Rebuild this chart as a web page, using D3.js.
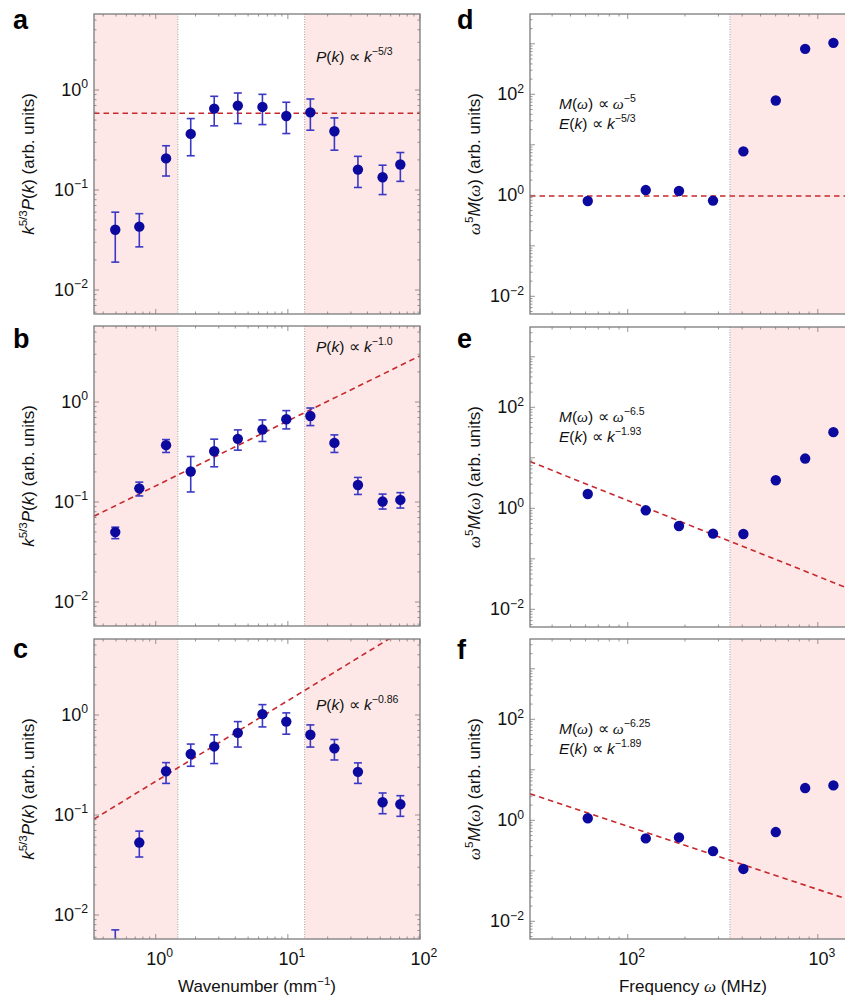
<!DOCTYPE html>
<html><head><meta charset="utf-8">
<script src="https://cdn.jsdelivr.net/npm/d3@7"></script>
<style>body{margin:0;background:#fff}svg{display:block;font-family:"Liberation Sans",Arial,sans-serif}</style>
</head><body><svg id="c" width="845" height="1000"></svg>
<script>
// ---------- data ----------
const wavenumber = [0.494, 0.751, 1.197, 1.84, 2.77, 4.18, 6.42, 9.73, 14.8, 22.5, 33.9, 52.1, 71];
const aMean = [0.040, 0.043, 0.207, 0.364, 0.652, 0.698, 0.677, 0.550, 0.598, 0.387, 0.160, 0.134, 0.180];
const aLow  = [0.019, 0.027, 0.138, 0.220, 0.438, 0.462, 0.451, 0.367, 0.396, 0.250, 0.106, 0.090, 0.122];
const aHigh = [0.060, 0.058, 0.277, 0.518, 0.865, 0.933, 0.905, 0.754, 0.813, 0.526, 0.217, 0.177, 0.237];
const bMean = [0.050, 0.137, 0.370, 0.202, 0.322, 0.428, 0.530, 0.672, 0.725, 0.390, 0.148, 0.101, 0.105];
const bLow  = [0.043, 0.115, 0.313, 0.126, 0.225, 0.330, 0.403, 0.538, 0.581, 0.313, 0.119, 0.085, 0.087];
const bHigh = [0.056, 0.158, 0.421, 0.285, 0.425, 0.526, 0.662, 0.820, 0.871, 0.469, 0.176, 0.120, 0.124];
const cMean = [0.0042, 0.053, 0.274, 0.407, 0.485, 0.663, 1.02, 0.859, 0.634, 0.464, 0.270, 0.134, 0.128];
const cLow  = [0.0025, 0.038, 0.207, 0.307, 0.327, 0.478, 0.760, 0.643, 0.478, 0.355, 0.207, 0.103, 0.097];
const cHigh = [0.0071, 0.069, 0.334, 0.512, 0.634, 0.859, 1.27, 1.05, 0.796, 0.569, 0.332, 0.166, 0.156];

const frequency = [61.6, 124.4, 186, 281, 406, 601, 858, 1208];
const dValues = [0.773, 1.27, 1.22, 0.785, 7.41, 75.5, 794, 1043];
const eValues = [1.92, 0.913, 0.447, 0.315, 0.310, 3.59, 9.66, 32.2];
const fValues = [1.10, 0.438, 0.458, 0.245, 0.109, 0.585, 4.35, 4.91];

// fitted power laws (compensated): amplitude * x^exponent
const leftFitAmp = [0.585, 0.145, 0.217];
const leftFitExp = [0, 0.65, 0.807];
const rightFitAmp = [0.97, 1427, 241];
const rightFitExp = [0, -1.5, -1.25];

const leftShade = [[0.3, 1.47], [13.4, 200]];
const leftBounds = [1.47, 13.4];
const rightShade = [[345, 3000]];
const rightBounds = [345];

const leftYTickExp = [-2, -1, 0];
const rightYTickExp = [-2, 0, 2];
const leftXTickExp = [0, 1, 2];
const rightXTickExp = [2, 3];

const leftNotes = ["−5/3", "−1.0", "−0.86"];
const rightNotesM = ["−5", "−6.5", "−6.25"];
const rightNotesE = ["−5/3", "−1.93", "−1.89"];
const letters = ["a", "b", "c", "d", "e", "f"];

// ---------- style ----------
const SHADE = "#fde8e7", FRAME = "#7b7b7b", PT = "#0c0a9e", ERR = "#3a38c4", FIT = "#c8282d";
const svg = d3.select("#c");
const defs = svg.append("defs");

function rich(sel, parts, size) {
  let shift = 0;
  parts.forEach(p => {
    const ts = sel.append("tspan").text(p.t);
    const target = p.sup ? -size * 0.42 : 0;
    if (target !== shift) { ts.attr("dy", target - shift); shift = target; }
    ts.attr("font-size", p.sup ? size * 0.68 : size);
    if (p.i) ts.attr("font-style", "italic");
    if (p.f) ts.attr("font-family", p.f);
  });
}

function logTicks(domain) {
  const out = [];
  const lo = Math.floor(Math.log10(domain[0])), hi = Math.ceil(Math.log10(domain[1]));
  for (let e = lo; e <= hi; e++) for (let m = 1; m <= 9; m++) {
    const v = m * Math.pow(10, e);
    if (v >= domain[0] && v <= domain[1]) out.push({v, major: m === 1});
  }
  return out;
}

let clipN = 0;
function panel(cfg) {
  const x = d3.scaleLog().domain(cfg.xDomain).range([cfg.x0, cfg.x1]);
  const y = d3.scaleLog().domain(cfg.yDomain).range([cfg.y1, cfg.y0]);
  const id = "clip" + (clipN++);
  defs.append("clipPath").attr("id", id).append("rect")
    .attr("x", cfg.x0).attr("y", cfg.y0).attr("width", cfg.x1 - cfg.x0).attr("height", cfg.y1 - cfg.y0);
  const g = svg.append("g");
  const inner = g.append("g").attr("clip-path", `url(#${id})`);
  cfg.shade.forEach(([a, b]) => inner.append("rect")
    .attr("x", x(a)).attr("width", x(b) - x(a)).attr("y", cfg.y0).attr("height", cfg.y1 - cfg.y0).attr("fill", SHADE));
  cfg.bounds.forEach(v => inner.append("line")
    .attr("x1", x(v)).attr("x2", x(v)).attr("y1", cfg.y0).attr("y2", cfg.y1)
    .attr("stroke", "#a0a0a0").attr("stroke-width", 1).attr("stroke-dasharray", "1,1.5"));
  // ticks
  const tg = g.append("g").attr("stroke", FRAME).attr("stroke-width", 0.8);
  logTicks(cfg.xDomain).forEach(t => {
    const L = t.major ? 5 : 2.5, px = x(t.v);
    tg.append("line").attr("x1", px).attr("x2", px).attr("y1", cfg.y1).attr("y2", cfg.y1 - L);
    tg.append("line").attr("x1", px).attr("x2", px).attr("y1", cfg.y0).attr("y2", cfg.y0 + L);
  });
  logTicks(cfg.yDomain).forEach(t => {
    const L = t.major ? 5 : 2.5, py = y(t.v);
    tg.append("line").attr("x1", cfg.x0).attr("x2", cfg.x0 + L).attr("y1", py).attr("y2", py);
    tg.append("line").attr("x1", cfg.x1).attr("x2", cfg.x1 - L).attr("y1", py).attr("y2", py);
  });
  // fit line
  const fit = v => cfg.amp * Math.pow(v, cfg.exp);
  inner.append("path")
    .attr("d", d3.line().x(d => x(d)).y(d => y(fit(d)))(cfg.xDomain))
    .attr("fill", "none").attr("stroke", FIT).attr("stroke-width", 1.6).attr("stroke-dasharray", "5.5,4");
  // error bars
  if (cfg.low) {
    const eg = inner.append("g").attr("stroke", ERR).attr("stroke-width", 1.6);
    cfg.xs.forEach((xv, i) => {
      const px = x(xv);
      eg.append("line").attr("x1", px).attr("x2", px).attr("y1", y(cfg.low[i])).attr("y2", y(cfg.high[i]));
      [cfg.low[i], cfg.high[i]].forEach(v => eg.append("line")
        .attr("x1", px - 4).attr("x2", px + 4).attr("y1", y(v)).attr("y2", y(v)));
    });
  }
  inner.append("g").selectAll("circle").data(cfg.ys).join("circle")
    .attr("cx", (d, i) => x(cfg.xs[i])).attr("cy", d => y(d)).attr("r", 5.2).attr("fill", PT);
  // frame
  g.append("rect").attr("x", cfg.x0).attr("y", cfg.y0).attr("width", cfg.x1 - cfg.x0).attr("height", cfg.y1 - cfg.y0)
    .attr("fill", "none").attr("stroke", FRAME).attr("stroke-width", 1.3);
  // y tick labels
  cfg.yTickExp.forEach(e => {
    const t = g.append("text").attr("x", cfg.x0 - 6).attr("y", y(Math.pow(10, e)) + 6)
      .attr("text-anchor", "end").attr("fill", "#111");
    rich(t, [{t: "10"}, {t: e < 0 ? "−" + (-e) : String(e), sup: true}], 18);
  });
  if (cfg.xTickExp) cfg.xTickExp.forEach(e => {
    const t = g.append("text").attr("x", x(Math.pow(10, e)) + 4).attr("y", cfg.y1 + 26)
      .attr("text-anchor", "middle").attr("fill", "#111");
    rich(t, [{t: "10"}, {t: e < 0 ? "−" + (-e) : String(e), sup: true}], 18);
  });
  // y axis label
  const cy = (cfg.y0 + cfg.y1) / 2;
  const yl = g.append("text").attr("transform", `translate(${cfg.ylx},${cy}) rotate(-90)`)
    .attr("text-anchor", "middle").attr("fill", "#111");
  rich(yl, cfg.ylabel, 17);
  // panel letter
  g.append("text").attr("x", cfg.lx).attr("y", cfg.ly).attr("font-size", 27).attr("font-weight", "bold")
    .attr("fill", "#000").text(cfg.letter);
  return {g, x, y};
}

const leftTops = [14, 326, 639];
const rightTops = [14, 327, 639];
const leftData = [[aMean, aLow, aHigh], [bMean, bLow, bHigh], [cMean, cLow, cHigh]];
const rightData = [dValues, eValues, fValues];
const leftNoteY = [62, 352, 710];
const letterY = [29, 348, 658];
const OM = "Liberation Serif";

leftTops.forEach((top, i) => {
  const p = panel({
    x0: 94, x1: 420, y0: top, y1: top + 300,
    xDomain: [0.341, 100], yDomain: [Math.pow(10, -2.24), Math.pow(10, 0.76)],
    shade: leftShade, bounds: leftBounds,
    amp: leftFitAmp[i], exp: leftFitExp[i],
    xs: wavenumber, ys: leftData[i][0], low: leftData[i][1], high: leftData[i][2],
    yTickExp: leftYTickExp, xTickExp: i === 2 ? leftXTickExp : null,
    ylx: 34, ylabel: [{t: "k", i: true}, {t: "5/3", sup: true}, {t: "P", i: true}, {t: "("}, {t: "k", i: true}, {t: ") (arb. units)"}],
    letter: letters[i], lx: 13, ly: letterY[i]
  });
  const t = p.g.append("text").attr("x", 316).attr("y", leftNoteY[i]).attr("fill", "#111");
  rich(t, [{t: "P", i: true}, {t: "("}, {t: "k", i: true}, {t: ") ∝ "}, {t: "k", i: true}, {t: leftNotes[i], sup: true}], 15.5);
});

rightTops.forEach((top, i) => {
  const p = panel({
    x0: 530, x1: 870, y0: top, y1: top + 300,
    xDomain: [30.6, 1882], yDomain: [Math.pow(10, -2.35), Math.pow(10, 3.59)],
    shade: rightShade, bounds: rightBounds,
    amp: rightFitAmp[i], exp: rightFitExp[i],
    xs: frequency, ys: rightData[i], low: null,
    yTickExp: rightYTickExp, xTickExp: i === 2 ? rightXTickExp : null,
    ylx: 480, ylabel: [{t: "ω", i: true, f: OM}, {t: "5", sup: true}, {t: "M", i: true}, {t: "("}, {t: "ω", i: true, f: OM}, {t: ") (arb. units)"}],
    letter: letters[i + 3], lx: 457, ly: letterY[i] + (i === 2 ? 1 : 0)
  });
  const t1 = p.g.append("text").attr("x", 559).attr("y", top + 95).attr("fill", "#111");
  rich(t1, [{t: "M", i: true}, {t: "("}, {t: "ω", i: true, f: OM}, {t: ") ∝ "}, {t: "ω", i: true, f: OM}, {t: rightNotesM[i], sup: true}], 15.5);
  const t2 = p.g.append("text").attr("x", 559).attr("y", top + 115).attr("fill", "#111");
  rich(t2, [{t: "E", i: true}, {t: "("}, {t: "k", i: true}, {t: ") ∝ "}, {t: "k", i: true}, {t: rightNotesE[i], sup: true}], 15.5);
});

// x axis titles
const xt1 = svg.append("text").attr("x", 257).attr("y", 992).attr("text-anchor", "middle").attr("fill", "#111");
rich(xt1, [{t: "Wavenumber (mm"}, {t: "−1", sup: true}, {t: ")"}], 17);
const xt2 = svg.append("text").attr("x", 693).attr("y", 992).attr("text-anchor", "middle").attr("fill", "#111");
rich(xt2, [{t: "Frequency "}, {t: "ω", i: true, f: OM}, {t: " (MHz)"}], 17);
</script></body></html>
